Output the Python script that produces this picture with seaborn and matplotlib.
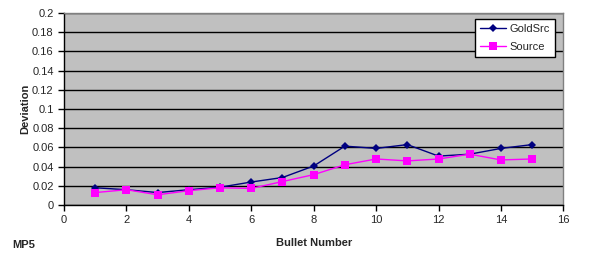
import matplotlib
matplotlib.use("Agg")
import matplotlib.pyplot as plt
import seaborn as sns
import pandas as pd

bullets = list(range(1, 16))
goldsrc = [0.018, 0.016, 0.013, 0.016, 0.0186, 0.024, 0.0287, 0.0407, 0.0614, 0.059, 0.063, 0.051, 0.053, 0.059, 0.063]
source = [0.013, 0.016, 0.0107, 0.015, 0.018, 0.0173, 0.0245, 0.0317, 0.042, 0.048, 0.046, 0.048, 0.053, 0.047, 0.048]
series_names = ["GoldSrc", "Source"]

df = pd.DataFrame({
    "Bullet Number": bullets * 2,
    "Deviation": goldsrc + source,
    "Series": [series_names[0]] * len(bullets) + [series_names[1]] * len(bullets),
})

sns.set_style("white")
plt.rcParams['font.family'] = ['Liberation Sans', 'DejaVu Sans']

fig = plt.figure(figsize=(5.93, 2.67), dpi=100)
ax = fig.add_axes([0.108, 0.232, 0.842, 0.719])
ax.set_facecolor("#C0C0C0")

sns.lineplot(data=df, x="Bullet Number", y="Deviation", hue="Series", style="Series",
             palette={"GoldSrc": "#000080", "Source": "#FF00FF"},
             markers={"GoldSrc": "D", "Source": "s"}, dashes=False,
             markersize=5, linewidth=1, markeredgewidth=0, ax=ax)
for line in ax.lines:
    if line.get_marker() == "D":
        line.set_markersize(4.5)
    else:
        line.set_markersize(5.5)

ax.set_xlim(0, 16)
ax.set_ylim(0, 0.2)
ax.set_xticks(range(0, 17, 2))
yt = [i * 0.02 for i in range(11)]
ax.set_yticks(yt)
ax.set_yticklabels(["0", "0.02", "0.04", "0.06", "0.08", "0.1", "0.12", "0.14", "0.16", "0.18", "0.2"])
ax.yaxis.grid(True, color="black", linewidth=1)
ax.set_axisbelow(True)
ax.tick_params(axis="both", labelsize=8, length=4, width=1, color="black", direction="out")
ax.tick_params(axis="y", left=True)
ax.tick_params(axis="x", bottom=True)
for s in ["left", "bottom"]:
    ax.spines[s].set_color("black")
    ax.spines[s].set_linewidth(1)
for s in ["top", "right"]:
    ax.spines[s].set_color("#808080")
    ax.spines[s].set_linewidth(1)

ax.set_xlabel("Bullet Number", fontsize=8, fontweight="bold", labelpad=9)
ax.set_ylabel("Deviation", fontsize=8, fontweight="bold", labelpad=1)

leg = ax.legend(loc="upper right", bbox_to_anchor=(0.983, 0.97), borderaxespad=0,
                fontsize=8, frameon=True, fancybox=False, edgecolor="black", framealpha=1,
                borderpad=0.45, handlelength=2.3, handletextpad=0.35, labelspacing=0.75,
                title=None)
leg.get_frame().set_linewidth(1)

fig.text(0.02, 0.082, "MP5", fontsize=8, fontweight="bold", ha="left", va="center")

fig.savefig("out.png", dpi=100)
